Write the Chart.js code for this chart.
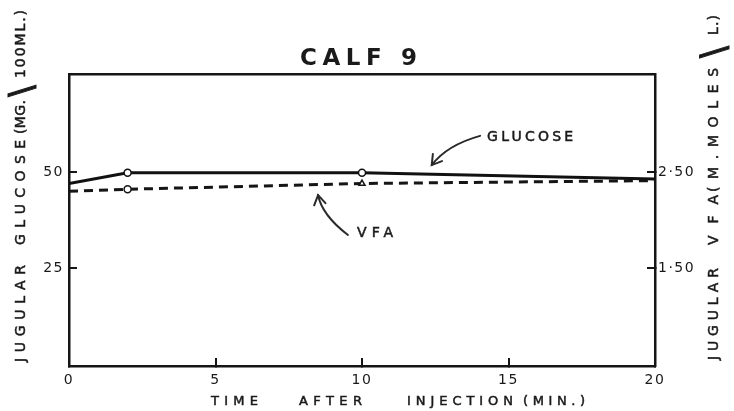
<!DOCTYPE html>
<html><head><meta charset="utf-8">
<script src="https://cdn.jsdelivr.net/npm/chart.js@4.4.1/dist/chart.umd.min.js"></script>
<style>html,body{margin:0;padding:0;background:#fff;}canvas{display:block;}</style>
</head><body>
<canvas id="c" width="734" height="411"></canvas>
<script>
// ---- data ----
const chartTitle = 'CALF 9';
const timeMin = [0, 2, 10, 20];
const glucoseMg = [47.0, 49.8, 49.8, 48.2];
const vfaMmol = [2.30, 2.32, 2.38, 2.41];
const xTickValues = [0, 5, 10, 15, 20];
const xTickLabels = ['0', '5', '10', '15', '20'];
const glucoseTickValues = [25, 50];
const glucoseTickLabels = ['25', '50'];
const vfaTickValues = [1.5, 2.5];
const vfaTickLabels = ['1·50', '2·50'];
const xTitleWords = ['TIME', 'AFTER', 'INJECTION', '(MIN.)'];
const leftTitleWords = ['JUGULAR', 'GLUCOSE', '(MG.', '/', '100ML.)'];
const rightTitleWords = ['JUGULAR', 'VFA', '(M.MOLES', '/', 'L.)'];
const seriesNames = ['GLUCOSE', 'VFA'];

const FONT = '"DejaVu Sans", sans-serif';
const INK = '#1a1a1a';

function drawFitted(ctx, text, x, y, len, rot, size, weight, thicken) {
  ctx.save();
  ctx.font = (weight || 'normal') + ' ' + size + 'px ' + FONT;
  const hasLS = ('letterSpacing' in ctx);
  if (hasLS) ctx.letterSpacing = '0px';
  const n = Array.from(text).length;
  const w = ctx.measureText(text).width;
  const ls = n > 1 ? (len - w) / (n - 1) : 0;
  ctx.translate(x, y);
  ctx.rotate(rot);
  if (hasLS) ctx.letterSpacing = ls.toFixed(2) + 'px';
  ctx.fillStyle = INK;
  ctx.strokeStyle = INK;
  ctx.textAlign = 'left';
  ctx.textBaseline = 'alphabetic';
  ctx.fillText(text, 0, size * 0.365);
  if (thicken) { ctx.lineWidth = thicken; ctx.strokeText(text, 0, size * 0.365); }
  ctx.restore();
}
function drawSlash(ctx, x, y, size) {
  ctx.save();
  ctx.font = 'normal ' + size + 'px ' + FONT;
  if ('letterSpacing' in ctx) ctx.letterSpacing = '0px';
  ctx.translate(x, y);
  ctx.rotate(-Math.PI / 2);
  ctx.scale(1, -1);
  ctx.fillStyle = INK;
  ctx.strokeStyle = INK;
  ctx.lineWidth = 1;
  ctx.textAlign = 'center';
  ctx.textBaseline = 'middle';
  ctx.fillText('/', 0, 0);
  ctx.strokeText('/', 0, 0);
  ctx.restore();
}
function arrow(ctx, p0, c, p1) {
  ctx.save();
  ctx.strokeStyle = '#2a2a2a';
  ctx.lineWidth = 2;
  ctx.lineCap = 'round';
  ctx.beginPath();
  ctx.moveTo(p0.x, p0.y);
  ctx.quadraticCurveTo(c.x, c.y, p1.x, p1.y);
  ctx.stroke();
  const ang = Math.atan2(c.y - p1.y, c.x - p1.x);
  const L = 11, a = 0.55;
  ctx.beginPath();
  ctx.moveTo(p1.x + L * Math.cos(ang + a), p1.y + L * Math.sin(ang + a));
  ctx.lineTo(p1.x, p1.y);
  ctx.lineTo(p1.x + L * Math.cos(ang - a), p1.y + L * Math.sin(ang - a));
  ctx.stroke();
  ctx.restore();
}

const annotations = [
  { text: seriesNames[0], at: [14.27, 59.4], len: 86, path: [[14.03, 59.4], [12.9, 57.0], [12.38, 51.8]] },
  { text: seriesNames[1], at: [9.83, 34.4], len: 36, path: [[9.52, 33.6], [8.63, 38.8], [8.5, 44.0]] }
];

const decorPlugin = {
  id: 'decor',
  beforeDraw(chart) {
    const ctx = chart.ctx;
    if ('letterSpacing' in ctx) ctx.letterSpacing = '1.5px';
  },
  afterDraw(chart) {
    const ctx = chart.ctx;
    if ('letterSpacing' in ctx) ctx.letterSpacing = '0px';
    const up = -Math.PI / 2;
    // title
    drawFitted(ctx, chartTitle, 300, 57, 117, 0, 23, 'bold', 0);
    // x title
    const xPos = [[211, 47], [299, 63], [407, 106], [523, 62]];
    xTitleWords.forEach((t, i) => drawFitted(ctx, t, xPos[i][0], 400, xPos[i][1], 0, 13, 'normal', 0.5));
    // left title
    const lPos = [[362, 97], [245, 105], [134, 34], null, [78, 68]];
    leftTitleWords.forEach((t, i) => {
      if (t === '/') drawSlash(ctx, 20, 91, 34);
      else drawFitted(ctx, t, 20, lPos[i][0], lPos[i][1], up, 14, 'normal', 0.5);
    });
    // right title
    const rPos = [[360, 92], [245, 50], [192, 124], null, [35, 20]];
    rightTitleWords.forEach((t, i) => {
      if (t === '/') drawSlash(ctx, 712, 52, 36);
      else drawFitted(ctx, t, 713, rPos[i][0], rPos[i][1], up, 14, 'normal', 0.5);
    });
    // annotations
    const xs = chart.scales.x, ys = chart.scales.y;
    const px = p => ({ x: xs.getPixelForValue(p[0]), y: ys.getPixelForValue(p[1]) });
    annotations.forEach(a => {
      const p = px(a.at);
      drawFitted(ctx, a.text, p.x, p.y, a.len, 0, 14, 'normal', 0.5);
      arrow(ctx, px(a.path[0]), px(a.path[1]), px(a.path[2]));
    });
  }
};

const tickFont = { family: FONT, size: 14 };
const borderOpts = { display: true, color: '#151515', width: 2.5 };

new Chart(document.getElementById('c'), {
  type: 'line',
  data: {
    datasets: [
      {
        label: seriesNames[1],
        data: timeMin.map((t, i) => ({ x: t, y: vfaMmol[i] })),
        yAxisID: 'y2',
        borderColor: '#151515',
        borderWidth: 3,
        borderDash: [9, 6],
        tension: 0,
        pointRadius: [0, 3.5, 3.5, 0],
        pointStyle: ['circle', 'circle', 'triangle', 'circle'],
        pointBackgroundColor: '#fff',
        pointBorderColor: '#151515',
        pointBorderWidth: 1.5,
        order: 2
      },
      {
        label: seriesNames[0],
        data: timeMin.map((t, i) => ({ x: t, y: glucoseMg[i] })),
        yAxisID: 'y',
        borderColor: '#111',
        borderWidth: 3,
        tension: 0,
        pointRadius: [0, 3.5, 3.5, 0],
        pointBackgroundColor: '#fff',
        pointBorderColor: '#111',
        pointBorderWidth: 1.5,
        order: 1
      }
    ]
  },
  options: {
    responsive: false,
    animation: false,
    devicePixelRatio: 1,
    layout: { padding: { top: 74, left: 0, right: 0, bottom: 0 } },
    plugins: { legend: { display: false }, tooltip: { enabled: false }, title: { display: false } },
    scales: {
      x: {
        type: 'linear', position: 'bottom', min: 0, max: 20,
        afterBuildTicks: s => { s.ticks = xTickValues.map(v => ({ value: v })); },
        afterFit: s => { s.height = 45; },
        ticks: { callback: v => xTickLabels[xTickValues.indexOf(v)], font: tickFont, color: INK, padding: 14, maxRotation: 0, autoSkip: false },
        grid: { drawOnChartArea: false, drawTicks: true, tickLength: -8, color: '#151515', lineWidth: 2 },
        border: borderOpts
      },
      xTop: {
        type: 'linear', position: 'top', min: 0, max: 20,
        afterFit: s => { s.height = 0; },
        ticks: { display: false },
        grid: { display: false },
        border: borderOpts
      },
      y: {
        type: 'linear', position: 'left', min: -0.5, max: 75.5,
        afterBuildTicks: s => { s.ticks = glucoseTickValues.map(v => ({ value: v })); },
        afterFit: s => { s.width = 69; },
        ticks: { callback: v => glucoseTickLabels[glucoseTickValues.indexOf(v)], font: tickFont, color: INK, padding: 13 },
        grid: { drawOnChartArea: false, drawTicks: true, tickLength: -8, color: '#151515', lineWidth: 2 },
        border: borderOpts
      },
      y2: {
        type: 'linear', position: 'right', min: 0.48, max: 3.52,
        afterBuildTicks: s => { s.ticks = vfaTickValues.map(v => ({ value: v })); },
        afterFit: s => { s.width = 79; },
        ticks: { callback: v => vfaTickLabels[vfaTickValues.indexOf(v)], font: tickFont, color: INK, padding: 11 },
        grid: { drawOnChartArea: false, drawTicks: true, tickLength: -8, color: '#151515', lineWidth: 2 },
        border: borderOpts
      }
    }
  },
  plugins: [decorPlugin]
});
</script>
</body></html>
